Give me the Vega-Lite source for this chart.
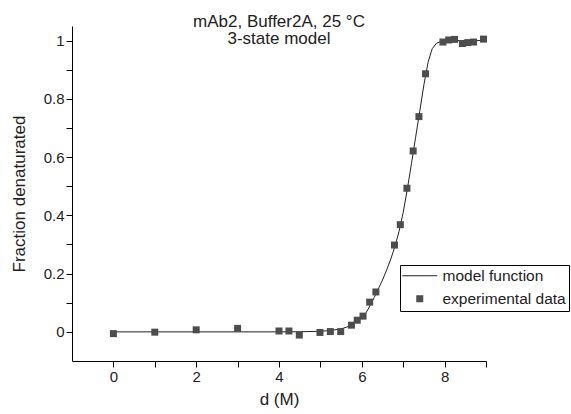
{
  "$schema": "https://vega.github.io/schema/vega-lite/v6.json",
  "width": 414,
  "height": 335,
  "autosize": "none",
  "padding": {"left": 72, "top": 26, "right": 85, "bottom": 53},
  "background": "white",
  "config": {
    "view": {"stroke": null},
    "font": "Liberation Sans",
    "axis": {
      "grid": false,
      "domainColor": "#000",
      "tickColor": "#000",
      "labelColor": "#222",
      "titleColor": "#222",
      "labelFont": "Liberation Sans",
      "titleFont": "Liberation Sans",
      "labelFontSize": 15,
      "titleFontSize": 17,
      "titleFontWeight": "normal",
      "tickSize": 6,
      "labelPadding": 2,
      "labelOverlap": false,
      "labelFlush": false
    }
  },
  "title": {
    "text": ["mAb2, Buffer2A, 25 °C", "3-state model"],
    "font": "Liberation Sans",
    "fontSize": 17,
    "fontWeight": "normal",
    "color": "#222",
    "anchor": "middle",
    "frame": "group",
    "offset": -22,
    "lineHeight": 17.5
  },
  "datasets": {
    "model": [
      {"d": 0, "f": 0.0}, {"d": 1, "f": 0.0}, {"d": 2, "f": 0.0}, {"d": 3, "f": 0.0},
      {"d": 4, "f": 0.0}, {"d": 4.5, "f": 0.0005}, {"d": 5, "f": 0.002}, {"d": 5.25, "f": 0.005},
      {"d": 5.5, "f": 0.01}, {"d": 5.75, "f": 0.022}, {"d": 6.0, "f": 0.048}, {"d": 6.1, "f": 0.065},
      {"d": 6.2, "f": 0.09}, {"d": 6.3, "f": 0.118}, {"d": 6.4, "f": 0.148}, {"d": 6.5, "f": 0.178},
      {"d": 6.6, "f": 0.212}, {"d": 6.7, "f": 0.25}, {"d": 6.8, "f": 0.293}, {"d": 6.9, "f": 0.345},
      {"d": 7.0, "f": 0.41}, {"d": 7.1, "f": 0.49}, {"d": 7.2, "f": 0.578}, {"d": 7.3, "f": 0.668},
      {"d": 7.4, "f": 0.757}, {"d": 7.5, "f": 0.848}, {"d": 7.6, "f": 0.925}, {"d": 7.7, "f": 0.972},
      {"d": 7.8, "f": 0.99}, {"d": 7.9, "f": 0.997}, {"d": 8.0, "f": 1.0}, {"d": 8.5, "f": 1.0},
      {"d": 9.0, "f": 1.0}
    ],
    "exp": [
      {"d": 0, "f": -0.006, "series": "experimental data"},
      {"d": 1, "f": -0.001, "series": "experimental data"},
      {"d": 2, "f": 0.007, "series": "experimental data"},
      {"d": 3, "f": 0.012, "series": "experimental data"},
      {"d": 4, "f": 0.003, "series": "experimental data"},
      {"d": 4.24, "f": 0.003, "series": "experimental data"},
      {"d": 4.49, "f": -0.011, "series": "experimental data"},
      {"d": 4.99, "f": -0.002, "series": "experimental data"},
      {"d": 5.24, "f": 0.001, "series": "experimental data"},
      {"d": 5.49, "f": 0.001, "series": "experimental data"},
      {"d": 5.75, "f": 0.023, "series": "experimental data"},
      {"d": 5.89, "f": 0.04, "series": "experimental data"},
      {"d": 6.03, "f": 0.054, "series": "experimental data"},
      {"d": 6.19, "f": 0.102, "series": "experimental data"},
      {"d": 6.34, "f": 0.137, "series": "experimental data"},
      {"d": 6.79, "f": 0.298, "series": "experimental data"},
      {"d": 6.93, "f": 0.368, "series": "experimental data"},
      {"d": 7.09, "f": 0.493, "series": "experimental data"},
      {"d": 7.24, "f": 0.621, "series": "experimental data"},
      {"d": 7.38, "f": 0.739, "series": "experimental data"},
      {"d": 7.54, "f": 0.886, "series": "experimental data"},
      {"d": 7.96, "f": 0.995, "series": "experimental data"},
      {"d": 8.1, "f": 1.002, "series": "experimental data"},
      {"d": 8.24, "f": 1.004, "series": "experimental data"},
      {"d": 8.43, "f": 0.99, "series": "experimental data"},
      {"d": 8.56, "f": 0.993, "series": "experimental data"},
      {"d": 8.7, "f": 0.995, "series": "experimental data"},
      {"d": 8.94, "f": 1.005, "series": "experimental data"}
    ]
  },
  "encoding": {
    "x": {
      "field": "d",
      "type": "quantitative",
      "scale": {"domain": [-1, 9], "nice": false, "zero": false},
      "axis": {
        "title": "d (M)",
        "values": [0, 1, 2, 3, 4, 5, 6, 7, 8, 9],
        "labelExpr": "datum.value % 2 == 0 ? format(datum.value, 'd') : ''",
        "titlePadding": 7,
        "encode": {"ticks": {"update": {"y2": {"signal": "datum.value % 2 == 0 ? 6 : 3"}}}}
      }
    },
    "y": {
      "field": "f",
      "type": "quantitative",
      "scale": {"domain": [-0.1, 1.05], "nice": false, "zero": false},
      "axis": {
        "title": "Fraction denaturated",
        "values": [0, 0.1, 0.2, 0.3, 0.4, 0.5, 0.6, 0.7, 0.8, 0.9, 1],
        "labelExpr": "round(datum.value * 10) % 2 == 0 ? format(datum.value, '~g') : ''",
        "titlePadding": 15,
        "encode": {"ticks": {"update": {"x2": {"signal": "round(datum.value * 10) % 2 == 0 ? -6 : -3"}}}}
      }
    }
  },
  "layer": [
    {
      "data": {"name": "model"},
      "mark": {"type": "line", "color": "#222", "strokeWidth": 1},
      "encoding": {}
    },
    {
      "data": {"name": "exp"},
      "mark": {"type": "point", "filled": true, "opacity": 1, "size": 100},
      "encoding": {
        "shape": {
          "field": "series",
          "type": "nominal",
          "scale": {
            "domain": ["model function", "experimental data"],
            "range": ["M-3.5,-0.1H3.5V0.1H-3.5Z", "M-0.7,-0.7H0.7V0.7H-0.7Z"]
          },
          "legend": {
            "title": null,
            "orient": "none",
            "legendX": 328,
            "legendY": 239,
            "strokeColor": "#000",
            "padding": 3,
            "labelFont": "Liberation Sans",
            "labelFontSize": 15.5,
            "labelColor": "#222",
            "symbolSize": 100,
            "symbolOffset": 9,
            "labelOffset": 15,
            "rowPadding": 6,
            "symbolStrokeWidth": 0
          }
        },
        "color": {
          "field": "series",
          "type": "nominal",
          "scale": {"domain": ["model function", "experimental data"], "range": ["#222", "#4d4d4d"]},
          "legend": {
            "title": null,
            "orient": "none",
            "legendX": 328,
            "legendY": 239,
            "strokeColor": "#000",
            "padding": 3,
            "labelFont": "Liberation Sans",
            "labelFontSize": 15.5,
            "labelColor": "#222",
            "symbolSize": 100,
            "symbolOffset": 9,
            "labelOffset": 15,
            "rowPadding": 6,
            "symbolStrokeWidth": 0
          }
        }
      }
    }
  ]
}
